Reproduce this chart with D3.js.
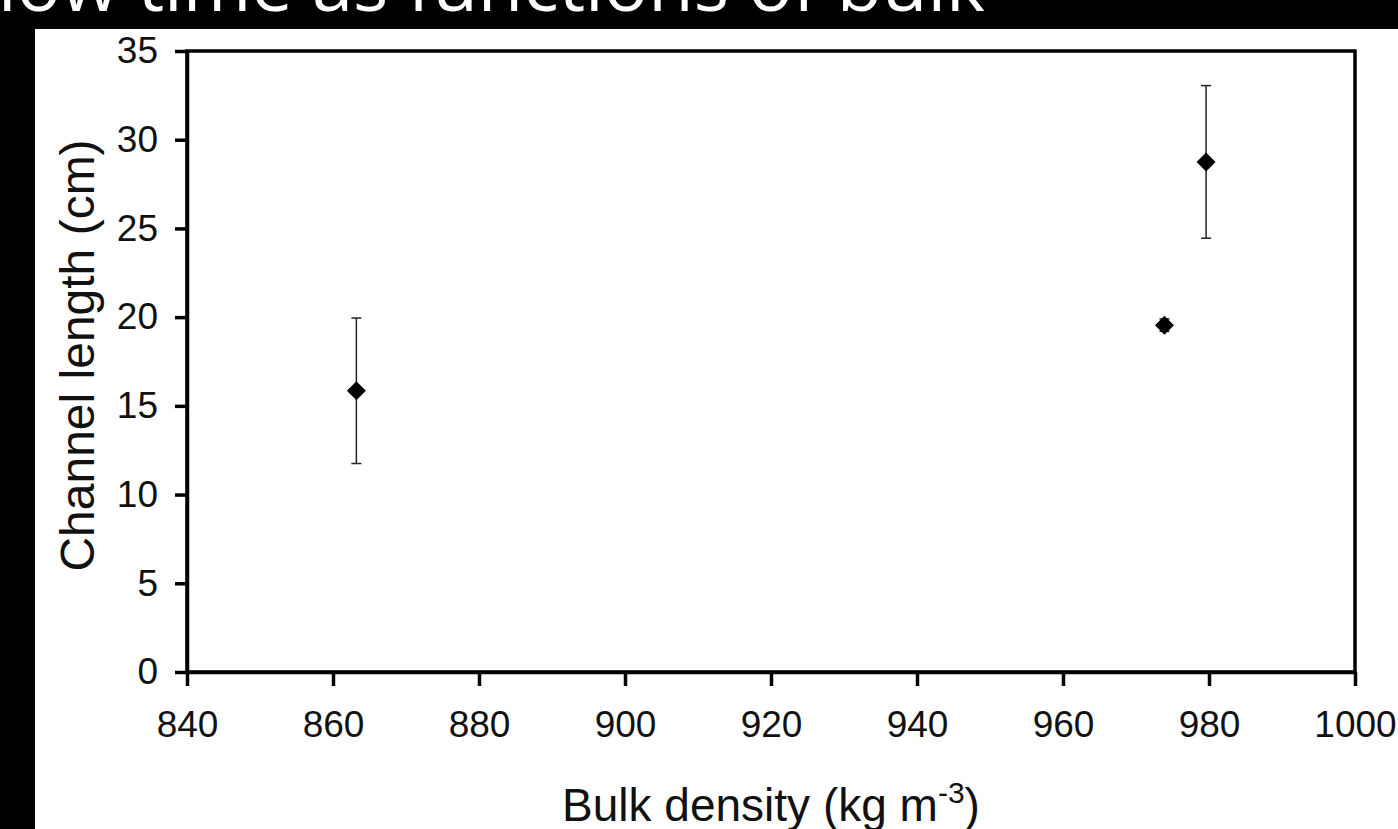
<!doctype html>
<html lang="en">
  <head>
    <meta charset="UTF-8" />
    <title>Channel length vs bulk density</title>
    <style>
      body {
        margin: 0;
        overflow: hidden;
        background: #000;
      }
      svg {
        display: block;
      }
      .tick text {
        font-family: "Liberation Sans", Arial, sans-serif;
        font-size: 37px;
        fill: #111;
      }
    </style>
  </head>
  <body>
    <script src="https://cdn.jsdelivr.net/npm/d3@7"></script>
    <script>
      // data
      const density = [863.2, 973.9, 979.6];
      const channelLength = [15.85, 19.55, 28.75];
      const lengthErr = [4.1, 0.35, 4.3];
      const xTicks = [840, 860, 880, 900, 920, 940, 960, 980, 1000];
      const yTicks = [0, 5, 10, 15, 20, 25, 30, 35];

      const points = density.map((d, i) => ({
        x: d,
        y: channelLength[i],
        e: lengthErr[i],
      }));

      const width = 1398;
      const height = 829;

      const svg = d3
        .select("body")
        .append("svg")
        .attr("width", width)
        .attr("height", height);

      // slide title, mostly cut off at the very top
      svg
        .append("text")
        .attr("x", 985)
        .attr("y", 11)
        .attr("text-anchor", "end")
        .attr("fill", "#fff")
        .style("font-family", "'Open Sans', sans-serif")
        .style("font-size", "74px")
        .text("flow time as functions of bulk");

      // white chart panel
      svg
        .append("rect")
        .attr("x", 35)
        .attr("y", 29)
        .attr("width", width - 35)
        .attr("height", height - 29)
        .attr("fill", "#fff");

      const x = d3.scaleLinear().domain([840, 1000]).range([187, 1355]);
      const y = d3.scaleLinear().domain([0, 35]).range([672, 51]);

      // frame
      svg
        .append("rect")
        .attr("x", x(840))
        .attr("y", y(35))
        .attr("width", x(1000) - x(840))
        .attr("height", y(0) - y(35))
        .attr("fill", "none")
        .attr("stroke", "#000")
        .attr("stroke-width", 3.5);

      const yAxis = svg
        .append("g")
        .attr("transform", `translate(${x(840)},0)`)
        .call(
          d3
            .axisLeft(y)
            .tickValues(yTicks)
            .tickSize(12)
            .tickSizeOuter(0)
            .tickPadding(17),
        );

      const xAxis = svg
        .append("g")
        .attr("transform", `translate(0,${y(0)})`)
        .call(
          d3
            .axisBottom(x)
            .tickValues(xTicks)
            .tickFormat(d3.format("d"))
            .tickSize(14)
            .tickSizeOuter(0)
            .tickPadding(25),
        );

      [yAxis, xAxis].forEach((g) => {
        g.select(".domain").attr("stroke", "#000").attr("stroke-width", 3.5);
        g.selectAll(".tick line")
          .attr("stroke", "#000")
          .attr("stroke-width", 3.5);
      });

      // error bars
      const bars = svg.append("g").attr("stroke", "#222").attr("stroke-width", 1.5);
      points.forEach((p) => {
        bars
          .append("line")
          .attr("x1", x(p.x))
          .attr("x2", x(p.x))
          .attr("y1", y(p.y - p.e))
          .attr("y2", y(p.y + p.e));
        [p.y - p.e, p.y + p.e].forEach((v) => {
          bars
            .append("line")
            .attr("x1", x(p.x) - 5)
            .attr("x2", x(p.x) + 5)
            .attr("y1", y(v))
            .attr("y2", y(v));
        });
      });

      // diamond markers
      svg
        .append("g")
        .selectAll("path")
        .data(points)
        .enter()
        .append("path")
        .attr("transform", (d) => `translate(${x(d.x)},${y(d.y)})`)
        .attr("d", "M0,-9.5L9.5,0L0,9.5L-9.5,0Z")
        .attr("fill", "#000");

      // axis titles
      const xTitle = svg
        .append("text")
        .attr("x", (x(840) + x(1000)) / 2)
        .attr("y", 821)
        .attr("text-anchor", "middle")
        .attr("fill", "#111")
        .style("font-family", "'Liberation Sans', Arial, sans-serif")
        .style("font-size", "46px");
      xTitle.append("tspan").text("Bulk density (kg m");
      xTitle.append("tspan").attr("dy", -18).style("font-size", "30px").text("-3");
      xTitle.append("tspan").attr("dy", 18).text(")");

      svg
        .append("text")
        .attr("transform", `translate(94,${(y(0) + y(35)) / 2 - 6}) rotate(-90)`)
        .attr("text-anchor", "middle")
        .attr("fill", "#111")
        .style("font-family", "'Liberation Sans', Arial, sans-serif")
        .style("font-size", "48px")
        .text("Channel length (cm)");
    </script>
  </body>
</html>
